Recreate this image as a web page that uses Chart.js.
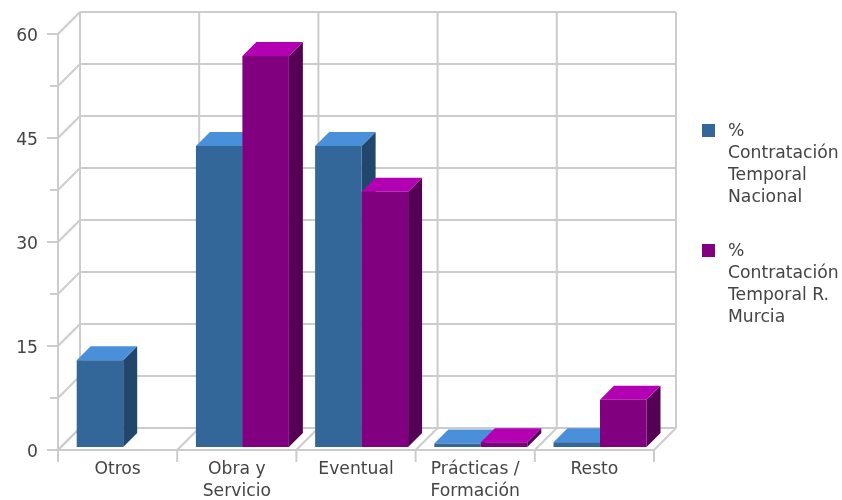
<!DOCTYPE html>
<html>
<head>
<meta charset="utf-8">
<script src="https://cdn.jsdelivr.net/npm/chart.js@4"></script>
<style>html,body{margin:0;padding:0;background:#fff}canvas{display:block}</style>
</head>
<body>
<canvas id="c" width="842" height="500"></canvas>
<script>
const categories = ['Otros', ['Obra y', 'Servicio'], 'Eventual', ['Prácticas /', 'Formación'], 'Resto'];
const nacional = [12.5, 43.4, 43.4, 0.5, 0.7];
const murcia = [null, 56.4, 36.8, 0.7, 6.8];
const nacionalLabel = ['%', 'Contratación', 'Temporal', 'Nacional'];
const murciaLabel = ['%', 'Contratación', 'Temporal R.', 'Murcia'];
const yMax = 60;
const yStep = 7.5;
const yLabelStep = 15;

const FONT_SIZE = 17.2;
const FONT = FONT_SIZE + 'px "DejaVu Sans"';
const TEXT = '#444444';
const GRID = '#cccccc';
const faces = [
  {front: '#336699', top: '#4a8fd9', side: '#22476d'},
  {front: '#800080', top: '#b300b3', side: '#550055'}
];
const WALL = 22, DEPTH = 14, SHIFT_X = 5.6, SHIFT_Y = -3;

function poly(ctx, pts, fill) {
  ctx.beginPath();
  pts.forEach((p, i) => i ? ctx.lineTo(p[0], p[1]) : ctx.moveTo(p[0], p[1]));
  ctx.closePath();
  ctx.fillStyle = fill;
  ctx.fill();
}
function seg(ctx, x1, y1, x2, y2) {
  ctx.beginPath();
  ctx.moveTo(x1, y1);
  ctx.lineTo(x2, y2);
  ctx.stroke();
}

const box3d = {
  id: 'box3d',
  beforeDatasetsDraw(chart) {
    const {ctx, scales: {x, y}} = chart;
    ctx.save();
    ctx.strokeStyle = GRID;
    ctx.lineWidth = 2;
    const y0 = y.getPixelForValue(0), yTop = y.getPixelForValue(yMax);
    const step = x.width / categories.length;
    for (let v = 0; v <= yMax; v += yStep) {
      const py = y.getPixelForValue(v);
      seg(ctx, x.left + WALL, py - WALL, x.right + WALL, py - WALL);
      seg(ctx, x.left, py, x.left + WALL, py - WALL);
      seg(ctx, x.left - (v % yLabelStep === 0 ? 11 : 8), py, x.left, py);
    }
    seg(ctx, x.left, y0, x.right, y0);
    seg(ctx, x.left, yTop, x.left, y0 + 12);
    for (let i = 0; i <= categories.length; i++) {
      const px = x.left + i * step;
      seg(ctx, px + WALL, yTop - WALL, px + WALL, y0 - WALL);
      seg(ctx, px, y0, px + WALL, y0 - WALL);
      seg(ctx, px, y0, px, y0 + 12);
    }
    ctx.restore();
  },
  // the library's reverse paint order would put the left series on top, so paint here left to right
  beforeDatasetDraw() {
    return false;
  },
  afterDatasetsDraw(chart) {
    const {ctx} = chart;
    chart.data.datasets.forEach((ds, k) => {
      const meta = chart.getDatasetMeta(k);
      const f = faces[k];
      ctx.save();
      ctx.translate(SHIFT_X, SHIFT_Y);
      meta.data.forEach((bar, i) => {
        if (ds.data[i] === null) return;
        const l = bar.x - bar.width / 2, r = bar.x + bar.width / 2;
        poly(ctx, [[r, bar.y], [r + DEPTH, bar.y - DEPTH], [r + DEPTH, bar.base - DEPTH], [r, bar.base]], f.side);
        poly(ctx, [[l, bar.y], [l + DEPTH, bar.y - DEPTH], [r + DEPTH, bar.y - DEPTH], [r, bar.y]], f.top);
      });
      meta.controller.draw();
      ctx.restore();
    });
  },
  afterDraw(chart) {
    const {ctx} = chart;
    ctx.save();
    ctx.font = FONT;
    ctx.textAlign = 'left';
    ctx.textBaseline = 'middle';
    [[nacionalLabel, 130], [murciaLabel, 250]].forEach((item, k) => {
      ctx.fillStyle = faces[k].front;
      ctx.fillRect(702, item[1] - 6, 13, 13);
      ctx.fillStyle = TEXT;
      item[0].forEach((line, i) => ctx.fillText(line, 728, item[1] + 2 + i * 22));
    });
    ctx.restore();
  }
};

new Chart(document.getElementById('c'), {
  type: 'bar',
  data: {
    labels: categories,
    datasets: [
      {label: nacionalLabel.join(' '), data: nacional, backgroundColor: faces[0].front},
      {label: murciaLabel.join(' '), data: murcia, backgroundColor: faces[1].front}
    ]
  },
  options: {
    responsive: false,
    animation: false,
    events: [],
    layout: {padding: {top: 34, right: 188, left: 0, bottom: 0}},
    datasets: {bar: {categoryPercentage: 0.78, barPercentage: 1, borderWidth: 0}},
    plugins: {legend: {display: false}, tooltip: {enabled: false}, title: {display: false}},
    scales: {
      x: {
        grid: {display: false, drawTicks: false},
        border: {display: false},
        afterFit(s) { s.height = 50; },
        ticks: {color: TEXT, font: {family: 'DejaVu Sans', size: FONT_SIZE, lineHeight: 1.28}, padding: 9, autoSkip: false, maxRotation: 0, minRotation: 0}
      },
      y: {
        min: 0,
        max: yMax,
        afterFit(s) { s.width = 58; },
        grid: {display: false, drawTicks: false},
        border: {display: false},
        ticks: {
          stepSize: yStep,
          color: TEXT,
          font: {family: 'DejaVu Sans', size: FONT_SIZE},
          padding: 20,
          labelOffset: 3,
          autoSkip: false,
          callback: v => (v % yLabelStep === 0 ? String(v) : '')
        }
      }
    }
  },
  plugins: [box3d]
});
</script>
</body>
</html>
